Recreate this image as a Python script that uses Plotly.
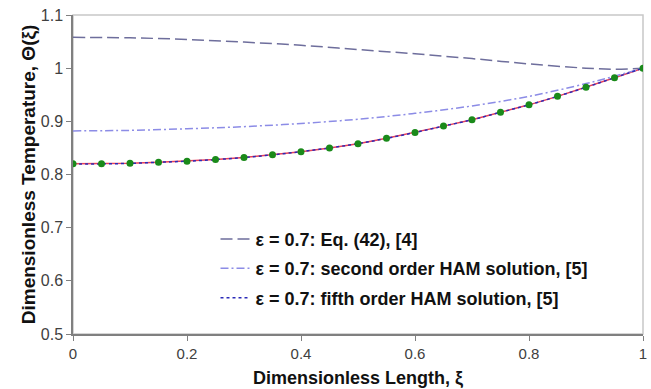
import plotly.graph_objects as go

# Data
xi_coarse = [0.0, 0.1, 0.2, 0.3, 0.4, 0.5, 0.6, 0.7, 0.8, 0.9, 0.95, 1.0]
theta_eq42 = [1.058, 1.057, 1.054, 1.049, 1.043, 1.035, 1.027, 1.018, 1.008, 1.000, 0.998, 1.000]
theta_ham2 = [0.882, 0.883, 0.886, 0.890, 0.896, 0.904, 0.915, 0.929, 0.947, 0.971, 0.985, 1.000]

xi_fine = [0.0, 0.05, 0.1, 0.15, 0.2, 0.25, 0.3, 0.35, 0.4, 0.45, 0.5,
           0.55, 0.6, 0.65, 0.7, 0.75, 0.8, 0.85, 0.9, 0.95, 1.0]
theta_ham5 = [0.820, 0.820, 0.821, 0.823, 0.825, 0.828, 0.832, 0.837, 0.843, 0.850, 0.858,
              0.868, 0.879, 0.891, 0.903, 0.917, 0.931, 0.947, 0.964, 0.982, 1.000]
theta_exact = theta_ham5
theta_points = theta_ham5

x_ticks = [0, 0.2, 0.4, 0.6, 0.8, 1]
x_tick_labels = ["0", "0.2", "0.4", "0.6", "0.8", "1"]
y_ticks = [0.5, 0.6, 0.7, 0.8, 0.9, 1.0, 1.1]
y_tick_labels = ["0.5", "0.6", "0.7", "0.8", "0.9", "1", "1.1"]

legend_names = [
    "<b>ε = 0.7: Eq. (42), [4]</b>",
    "<b>ε = 0.7: second order HAM solution, [5]</b>",
    "<b>ε = 0.7: fifth order HAM solution, [5]</b>",
]

FONT = "Arial, Liberation Sans, sans-serif"

fig = go.Figure()

fig.add_trace(go.Scatter(x=xi_fine, y=theta_exact, mode="lines",
                         line=dict(color="#e8405a", width=1.5), showlegend=False))
fig.add_trace(go.Scatter(x=xi_coarse, y=theta_eq42, mode="lines", name=legend_names[0],
                         legendgroup="a",
                         line=dict(color="#6e6e9c", width=1.5, dash="12px,5px"), line_shape="spline"))
fig.add_trace(go.Scatter(x=xi_coarse, y=theta_ham2, mode="lines", name=legend_names[1],
                         legendgroup="b",
                         line=dict(color="#8c8ce6", width=1.5, dash="8px,3px,2px,3px"), line_shape="spline"))
fig.add_trace(go.Scatter(x=xi_fine, y=theta_ham5, mode="lines", name=legend_names[2],
                         legendgroup="c",
                         line=dict(color="#2a2ab8", width=1.5, dash="dot"), line_shape="spline"))
fig.add_trace(go.Scatter(x=xi_fine, y=theta_points, mode="markers",
                         marker=dict(color="#1a8a1a", size=7), showlegend=False))

fig.update_layout(
    width=651, height=389,
    margin=dict(l=73, r=4, t=15, b=55),
    paper_bgcolor="white", plot_bgcolor="white",
    showlegend=True,
    legend=dict(x=0.25, y=0.355, xanchor="left", yanchor="top",
                bgcolor="rgba(0,0,0,0)", font=dict(family=FONT, size=18, color="#111111"),
                tracegroupgap=3, itemwidth=30),
    shapes=[dict(type="rect", xref="paper", yref="paper", x0=0, y0=0, x1=1, y1=1,
                 line=dict(color="#c8c8c8", width=1.5), layer="below")],
)
fig.update_xaxes(range=[0, 1], tickvals=x_ticks, ticktext=x_tick_labels,
                 showgrid=False, zeroline=False, showline=True, linecolor="#808080", linewidth=1.5,
                 ticks="outside", ticklen=5, tickcolor="#808080", ticklabeloverflow="allow",
                 tickfont=dict(family=FONT, size=15, color="#404040"),
                 title=dict(text="<b>Dimensionless Length, ξ</b>",
                            font=dict(family=FONT, size=18, color="#111111"), standoff=11))
fig.update_yaxes(range=[0.5, 1.1], tickvals=y_ticks, ticktext=y_tick_labels,
                 showgrid=False, zeroline=False, showline=True, linecolor="#808080", linewidth=1.5,
                 ticks="outside", ticklen=5, tickcolor="#808080",
                 tickfont=dict(family=FONT, size=16, color="#404040"),
                 title=dict(text="<b>Dimensionless Temperature, Θ(ξ)</b>",
                            font=dict(family=FONT, size=19, color="#111111"), standoff=0))

fig.write_html("out.html")
